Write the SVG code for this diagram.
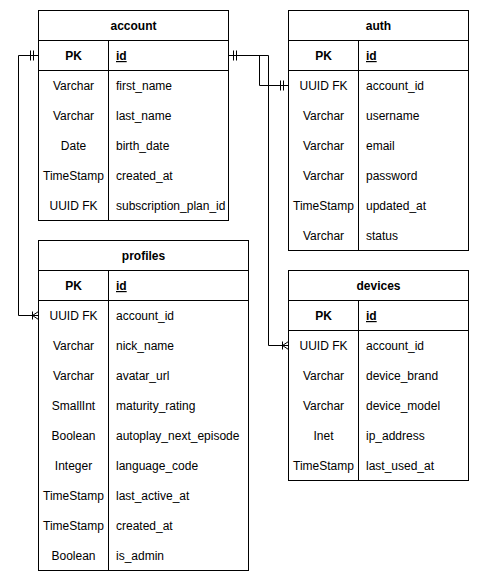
<svg xmlns="http://www.w3.org/2000/svg" width="479" height="581" viewBox="0 0 479 581">
<style>
text{font-family:"Liberation Sans",Arial,sans-serif;font-size:12px;fill:#000}
.t{font-weight:bold;text-anchor:middle}
.pk{font-weight:bold;text-anchor:middle}
.k{font-weight:bold;text-decoration:underline}
.ty{text-anchor:middle}
.box{fill:#fff;stroke:#000;stroke-width:1}
.ln{stroke:#000;stroke-width:1;fill:none}
.edge{stroke:#000;stroke-width:1;fill:none}
</style>
<defs>
<marker id="one" markerUnits="userSpaceOnUse" orient="auto-start-reverse" refX="0" refY="0" markerWidth="20" markerHeight="20" overflow="visible">
<path d="M-5,-5V5M-8,-5V5" stroke="#000" stroke-width="1" fill="none"/>
</marker>
<marker id="many" markerUnits="userSpaceOnUse" orient="auto" refX="0" refY="0" markerWidth="20" markerHeight="20" overflow="visible">
<path d="M-6,-4V4M0,-4L-6,0L0,4" stroke="#000" stroke-width="1" fill="none"/>
</marker>
</defs>
<rect width="479" height="581" fill="#fff"/>
<g id="connectors">
<path class="edge" d="M228.5 55.5H259.5V85.5H288.5" marker-start="url(#one)" marker-end="url(#one)"/>
<path class="edge" d="M228.5 55.5H268.5V345.5H288.5" marker-end="url(#many)"/>
<path class="edge" d="M38.5 55.5H18.5V315.5H38.5" marker-start="url(#one)" marker-end="url(#many)"/>
</g>
<g id="account">
<rect class="box" x="38.5" y="10.5" width="190" height="210"/>
<path class="ln" d="M38.5 40.5H228.5M38.5 70.5H228.5M108.5 40.5V220.5"/>
<text class="t" x="133.5" y="30">account</text>
<text class="pk" x="73.5" y="60">PK</text><text class="k" x="116" y="60">id</text>
<text class="ty" x="73.5" y="90">Varchar</text><text x="116" y="90">first_name</text>
<text class="ty" x="73.5" y="120">Varchar</text><text x="116" y="120">last_name</text>
<text class="ty" x="73.5" y="150">Date</text><text x="116" y="150">birth_date</text>
<text class="ty" x="73.5" y="180">TimeStamp</text><text x="116" y="180">created_at</text>
<text class="ty" x="73.5" y="210">UUID FK</text><text x="116" y="210">subscription_plan_id</text>
</g>
<g id="auth">
<rect class="box" x="288.5" y="10.5" width="180" height="240"/>
<path class="ln" d="M288.5 40.5H468.5M288.5 70.5H468.5M358.5 40.5V250.5"/>
<text class="t" x="378.5" y="30">auth</text>
<text class="pk" x="323.5" y="60">PK</text><text class="k" x="366" y="60">id</text>
<text class="ty" x="323.5" y="90">UUID FK</text><text x="366" y="90">account_id</text>
<text class="ty" x="323.5" y="120">Varchar</text><text x="366" y="120">username</text>
<text class="ty" x="323.5" y="150">Varchar</text><text x="366" y="150">email</text>
<text class="ty" x="323.5" y="180">Varchar</text><text x="366" y="180">password</text>
<text class="ty" x="323.5" y="210">TimeStamp</text><text x="366" y="210">updated_at</text>
<text class="ty" x="323.5" y="240">Varchar</text><text x="366" y="240">status</text>
</g>
<g id="profiles">
<rect class="box" x="38.5" y="240.5" width="210" height="330"/>
<path class="ln" d="M38.5 270.5H248.5M38.5 300.5H248.5M108.5 270.5V570.5"/>
<text class="t" x="143.5" y="260">profiles</text>
<text class="pk" x="73.5" y="290">PK</text><text class="k" x="116" y="290">id</text>
<text class="ty" x="73.5" y="320">UUID FK</text><text x="116" y="320">account_id</text>
<text class="ty" x="73.5" y="350">Varchar</text><text x="116" y="350">nick_name</text>
<text class="ty" x="73.5" y="380">Varchar</text><text x="116" y="380">avatar_url</text>
<text class="ty" x="73.5" y="410">SmallInt</text><text x="116" y="410">maturity_rating</text>
<text class="ty" x="73.5" y="440">Boolean</text><text x="116" y="440">autoplay_next_episode</text>
<text class="ty" x="73.5" y="470">Integer</text><text x="116" y="470">language_code</text>
<text class="ty" x="73.5" y="500">TimeStamp</text><text x="116" y="500">last_active_at</text>
<text class="ty" x="73.5" y="530">TimeStamp</text><text x="116" y="530">created_at</text>
<text class="ty" x="73.5" y="560">Boolean</text><text x="116" y="560">is_admin</text>
</g>
<g id="devices">
<rect class="box" x="288.5" y="270.5" width="180" height="210"/>
<path class="ln" d="M288.5 300.5H468.5M288.5 330.5H468.5M358.5 300.5V480.5"/>
<text class="t" x="378.5" y="290">devices</text>
<text class="pk" x="323.5" y="320">PK</text><text class="k" x="366" y="320">id</text>
<text class="ty" x="323.5" y="350">UUID FK</text><text x="366" y="350">account_id</text>
<text class="ty" x="323.5" y="380">Varchar</text><text x="366" y="380">device_brand</text>
<text class="ty" x="323.5" y="410">Varchar</text><text x="366" y="410">device_model</text>
<text class="ty" x="323.5" y="440">Inet</text><text x="366" y="440">ip_address</text>
<text class="ty" x="323.5" y="470">TimeStamp</text><text x="366" y="470">last_used_at</text>
</g>
</svg>
